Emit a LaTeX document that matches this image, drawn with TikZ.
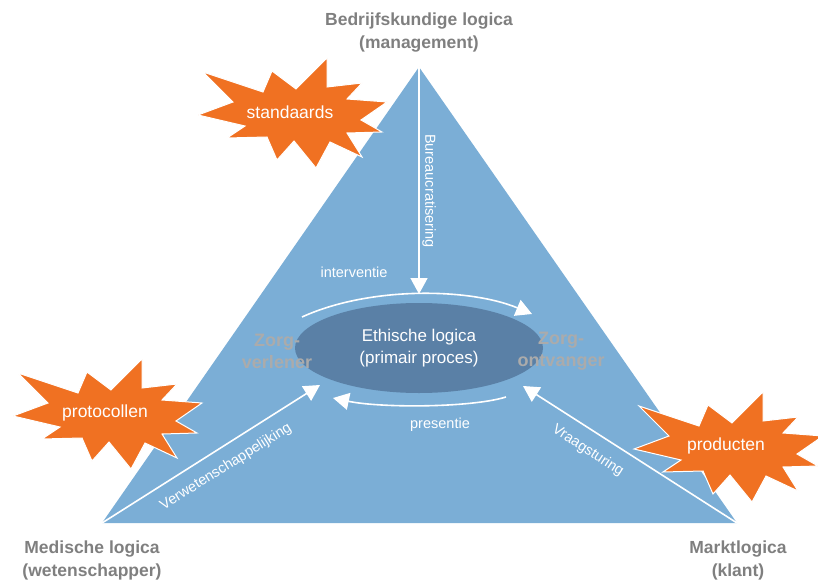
\documentclass[tikz,border=0pt]{standalone}
\usepackage{fontspec}
\setmainfont{Liberation Sans}
\usetikzlibrary{arrows.meta,shapes}

\definecolor{triblue}{HTML}{7BAED6}
\definecolor{ellblue}{HTML}{5A80A6}
\definecolor{burstorange}{HTML}{F07122}
\definecolor{logicgray}{HTML}{7F7F7F}
\definecolor{zorggray}{HTML}{ABABAB}

% outline of one explosion, relative to its text
\newcommand{\burstoutline}{(-87,-40) -- (-27,-20) -- (-18,-41) -- (6,-23) -- (37,-54) -- (37,-25)
        -- (72,-29) -- (57,-13) -- (97,-10) -- (71,8) -- (92,20) -- (57,21) -- (72,45) -- (40,30)
        -- (26,56) -- (4,29) -- (-13,48) -- (-23,25) -- (-63,26) -- (-45,14) -- (-92,3) -- (-57,-10) -- cycle}

\begin{document}
\begin{tikzpicture}[x=1pt,y=-1pt,
        logic/.style={font=\fontsize{17.5}{23}\selectfont\bfseries, text=logicgray, align=center, inner sep=0pt},
        burstshape/.style={fill=burstorange, draw=white, line width=1pt},
        burstlabel/.style={text=white, font=\fontsize{17.5}{20}\selectfont, inner sep=0pt},
        flow/.style={draw=white, line width=1.6pt, -{Triangle[width=17pt,length=16pt]}},
        flowlabel/.style={text=white, font=\fontsize{14.5}{16}\selectfont, inner sep=0pt},
        zorg/.style={text=zorggray, font=\fontsize{18}{22}\selectfont\bfseries, align=center, inner sep=0pt}]
        \useasboundingbox (0,0) rectangle (818,580);
        % corners of the triangle
        \coordinate (top) at (419,67);
        \coordinate (bl) at (102,523);
        \coordinate (br) at (737,523);
        \fill [triblue] (top) -- (br) -- (bl) -- cycle;
        % primary process
        \node [ellipse, fill=ellblue, minimum width=248pt, minimum height=90pt, text=white,
               font=\fontsize{17}{22}\selectfont, align=center] (ethisch) at (419,348)
               {Ethische logica\\(primair proces)};
        \node [zorg] (verlener) at (277,351) {Zorg-\\verlener};
        \node [zorg] (ontvanger) at (561,351) {Zorg-\\ontvanger};
        % logics
        \node [logic] (bedrijf) at (419,33) {Bedrijfskundige logica\\(management)};
        \node [logic] (medisch) at (92,560) {Medische logica\\(wetenschapper)};
        \node [logic] (markt) at (738,560) {Marktlogica\\(klant)};
        % bursts
        \draw [burstshape, shift={(290,112)}] \burstoutline;
        \node [burstlabel] (standaards) at (290,112) {standaards};
        \draw [burstshape, shift={(105,413)}] \burstoutline;
        \node [burstlabel] (protocollen) at (105,413) {protocollen};
        \draw [burstshape, shift={(726,446)}] \burstoutline;
        \node [burstlabel] (producten) at (726,446) {producten};
        % arrows
        \coordinate (bureautip) at (419,294);
        \coordinate (wetentip) at (320,385);
        \coordinate (vraagtip) at (523,386);
        \coordinate (intvstart) at (302,317);
        \coordinate (intvend) at (532,314);
        \coordinate (presstart) at (506,397);
        \coordinate (presend) at (333,398);
        \draw [flow] (top) -- (bureautip);
        \draw [flow] (bl) -- (wetentip);
        \draw [flow] (br) -- (vraagtip);
        \draw [flow] (intvstart) .. controls (370,286) and (470,288) .. (intvend);
        \draw [flow] (presstart) .. controls (470,408) and (380,408) .. (presend);
        % labels
        \node [flowlabel, rotate=-90] (bureau) at (429,191) {Bureaucratisering};
        \node [flowlabel, rotate=32] (wetenschap) at (226,467) {Verwetenschappelijking};
        \node [flowlabel, rotate=-33] (vraag) at (588,451) {Vraagsturing};
        \node [flowlabel] (interventie) at (354,272) {interventie};
        \node [flowlabel] (presentie) at (440,425) {presentie};
\end{tikzpicture}
\end{document}
